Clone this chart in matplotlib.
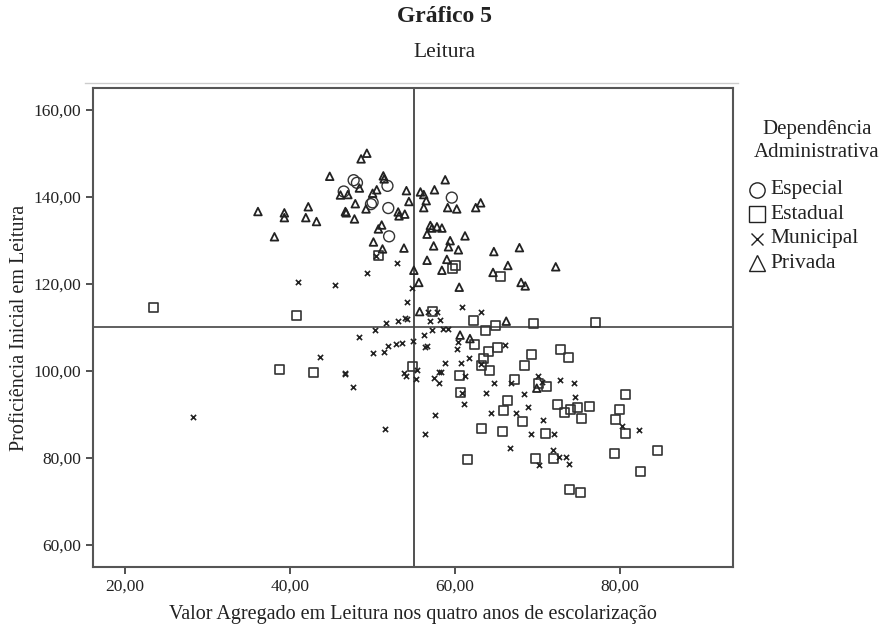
import matplotlib.pyplot as plt
from matplotlib.lines import Line2D

plt.rcParams['font.family'] = 'serif'
plt.rcParams['font.serif'] = ['Liberation Serif', 'DejaVu Serif']

# Especial (circles)
esp_x = [47.7, 48.1, 51.8, 46.5, 49.8, 50.0, 51.9, 52.0, 59.6]
esp_y = [143.8, 143.2, 142.5, 141.2, 138.3, 138.7, 137.4, 130.9, 139.8]

# Estadual (squares)
est_x = [23.4, 40.8, 38.7, 42.8, 50.7, 59.7, 60.1, 65.5, 57.2, 62.2, 63.7, 64.9,
         62.3, 63.4, 64.1, 65.1, 63.2, 64.2, 54.8, 60.5, 60.7, 66.4, 65.9, 69.5,
         77.0, 69.3, 72.8, 73.8, 68.4, 67.2, 70.1, 71.1, 80.6, 72.4, 74.0, 74.9,
         76.3, 73.3, 75.3, 79.9, 79.5, 80.6, 68.2, 63.2, 65.7, 70.9, 61.5, 69.8,
         71.9, 79.3, 84.5, 82.5, 73.9, 75.2]
est_y = [114.6, 112.6, 100.2, 99.7, 126.4, 123.4, 124.3, 121.6, 113.6, 111.6, 109.3, 110.3,
         106.1, 102.9, 104.4, 105.4, 101.3, 100.1, 101.0, 98.9, 95.0, 93.1, 90.9, 110.9,
         111.0, 103.8, 105.0, 103.1, 101.1, 97.9, 97.0, 96.5, 94.5, 92.3, 91.0, 91.6,
         91.9, 90.3, 89.0, 91.0, 88.7, 85.5, 88.3, 86.7, 86.0, 85.6, 79.7, 79.8,
         79.8, 80.9, 81.7, 76.9, 72.6, 72.0]

# Municipal (x)
mun_x = [41.0, 43.6, 50.4, 53.0, 49.3, 45.4, 54.8, 54.2, 60.8, 63.2, 56.7, 57.8,
         53.9, 54.2, 53.1, 51.6, 57.0, 58.2, 50.3, 57.2, 58.5, 59.2, 48.3, 56.2,
         54.9, 51.9, 52.8, 53.6, 56.4, 56.6, 60.3, 60.2, 50.1, 51.4, 58.8, 61.7,
         60.7, 55.4, 53.8, 54.1, 58.1, 58.3, 55.3, 57.5, 58.1, 46.6, 46.7, 47.6,
         61.2, 60.8, 63.7, 63.2, 64.7, 61.1, 66.0, 66.8, 70.1, 70.5, 72.7, 74.4,
         68.3, 74.5, 68.8, 28.2, 51.5, 57.6, 56.3, 64.3, 67.4, 70.7, 69.2, 72.0,
         66.7, 71.9, 72.6, 73.4, 70.2, 73.8, 80.2, 82.3]
mun_y = [120.3, 103.2, 126.4, 124.7, 122.5, 119.6, 119.1, 115.7, 114.6, 113.5, 113.4, 113.5,
         112.2, 112.0, 111.4, 111.0, 111.4, 111.6, 109.3, 109.3, 109.7, 109.7, 107.7, 108.2,
         106.8, 105.8, 106.2, 106.4, 105.4, 105.6, 106.7, 105.1, 104.1, 104.2, 101.9, 102.9,
         101.7, 100.2, 99.5, 98.8, 99.7, 99.7, 98.2, 98.3, 97.3, 99.4, 99.2, 96.2,
         98.7, 95.0, 94.9, 101.6, 97.3, 92.3, 106.0, 97.3, 98.7, 97.5, 97.8, 97.2,
         94.7, 94.0, 91.6, 89.3, 86.7, 89.9, 85.5, 90.3, 90.3, 88.8, 85.4, 85.4,
         82.3, 81.9, 80.2, 80.2, 78.3, 78.6, 87.2, 86.3]

# Privada (triangles)
pri_x = [36.1, 39.3, 39.3, 42.2, 41.9, 43.2, 38.1, 49.3, 48.6, 44.8, 51.3, 51.4,
         54.1, 54.4, 50.5, 50.0, 46.1, 47.0, 48.4, 47.9, 49.2, 46.7, 46.8, 47.8,
         53.1, 53.9, 53.2, 51.1, 50.7, 50.1, 51.2, 53.8, 55.8, 56.2, 56.5, 57.5,
         58.8, 56.2, 59.1, 60.2, 62.5, 63.1, 57.0, 57.8, 58.4, 57.2, 56.6, 61.2,
         59.4, 57.4, 59.2, 60.4, 64.7, 56.6, 59.0, 67.8, 58.4, 64.6, 66.4, 55.0,
         55.6, 60.5, 55.7, 66.2, 60.6, 61.8, 72.2, 68.0, 68.5, 69.9]
pri_y = [136.6, 136.3, 135.2, 137.7, 135.2, 134.3, 130.8, 150.0, 148.7, 144.7, 144.8, 144.1,
         141.4, 138.9, 141.6, 140.8, 140.4, 140.5, 142.0, 138.4, 137.2, 136.6, 136.3, 134.9,
         136.5, 136.0, 135.6, 133.5, 132.6, 129.6, 128.0, 128.2, 141.1, 140.5, 139.1, 141.6,
         143.9, 137.5, 137.5, 137.2, 137.5, 138.6, 133.4, 133.1, 132.8, 132.8, 131.4, 131.0,
         129.9, 128.7, 128.5, 127.8, 127.4, 125.4, 125.6, 128.3, 123.1, 122.6, 124.2, 123.1,
         120.3, 119.2, 113.6, 111.4, 108.2, 107.4, 123.9, 120.3, 119.5, 96.0]

x_ticks = [20, 40, 60, 80]
y_ticks = [60, 80, 100, 120, 140, 160]
ref_x = 55
ref_y = 110

legend_labels = ['Especial', 'Estadual', 'Municipal', 'Privada']
legend_markers = ['o', 's', 'x', '^']

fig = plt.figure(figsize=(8.89, 6.27), dpi=100)
ax = fig.add_axes([0.1046, 0.0957, 0.72, 0.764])

ax.scatter(esp_x, esp_y, marker='o', s=62, facecolors='none', edgecolors='#333333', linewidths=1.0, zorder=3)
ax.scatter(est_x, est_y, marker='s', s=42, facecolors='none', edgecolors='#333333', linewidths=1.2, zorder=3)
ax.scatter(mun_x, mun_y, marker='x', s=14, color='#222222', linewidths=1.2, zorder=3)
ax.scatter(pri_x, pri_y, marker='^', s=30, facecolors='none', edgecolors='#222222', linewidths=1.3, zorder=3)

ax.axvline(ref_x, color='#333333', linewidth=1.2, zorder=2)
ax.axhline(ref_y, color='#444444', linewidth=1.2, zorder=2)

ax.set_xlim(16.1, 93.7)
ax.set_ylim(54.9, 165.0)
ax.set_xticks(x_ticks)
ax.set_yticks(y_ticks)
ax.set_xticklabels([f'{v},00' for v in x_ticks])
ax.set_yticklabels([f'{v},00' for v in y_ticks])
ax.tick_params(direction='out', length=5, width=1.2, color='#333333', labelsize=12.5, labelcolor='#222222')
for sp in ax.spines.values():
    sp.set_color('#555555')
    sp.set_linewidth(1.5)

ax.set_xlabel('Valor Agregado em Leitura nos quatro anos de escolarização', fontsize=14.5, color='#222222', labelpad=7)
ax.set_ylabel('Proficiência Inicial em Leitura', fontsize=14.5, color='#222222', labelpad=3)

# titles and the thin rule above the plot
fig.text(0.5, 0.99, 'Gráfico 5', ha='center', va='top', fontsize=17, weight='bold', color='#222222')
fig.text(0.5, 0.932, 'Leitura', ha='center', va='top', fontsize=15.5, color='#222222')
fig.add_artist(Line2D([0.096, 0.83], [0.868, 0.868], color='#cccccc', linewidth=1.0))

# legend drawn by hand to match the spacing of the original
fig.text(0.919, 1 - 141 / 627, 'Dependência\nAdministrativa', ha='center', va='center', fontsize=15,
         color='#222222', linespacing=1.35)
for i, (lab, mk) in enumerate(zip(legend_labels, legend_markers)):
    y = 1 - (190 + 24.5 * i) / 627
    fig.add_artist(Line2D([0.852], [y], marker=mk, linestyle='none', markersize=11 if mk != 'x' else 9,
                          markerfacecolor='none', markeredgecolor='#222222', markeredgewidth=1.0))
    fig.text(0.867, y, lab, ha='left', va='center', fontsize=15.5, color='#222222')

fig.savefig('out.png', dpi=100)
